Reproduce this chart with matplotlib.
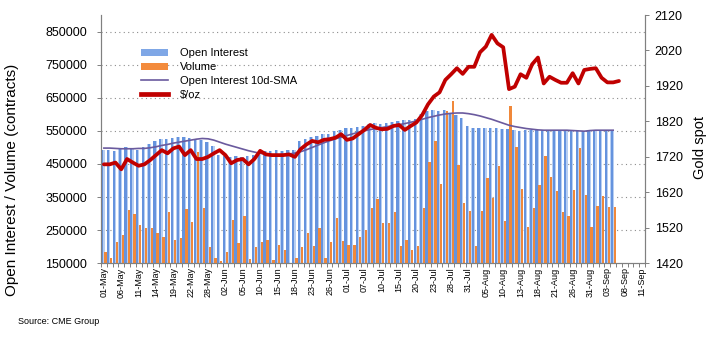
import matplotlib
matplotlib.use("Agg")
import matplotlib.pyplot as plt
from matplotlib.patches import Patch
from matplotlib.lines import Line2D
import numpy as np

plt.rcParams['font.family'] = ['Liberation Sans', 'DejaVu Sans']

# ---- data ----
tick_labels = ["01-May", "06-May", "11-May", "14-May", "19-May", "22-May", "28-May",
               "02-Jun", "05-Jun", "10-Jun", "15-Jun", "18-Jun", "23-Jun", "26-Jun",
               "01-Jul", "07-Jul", "10-Jul", "15-Jul", "20-Jul", "23-Jul", "28-Jul",
               "31-Jul", "05-Aug", "10-Aug", "13-Aug", "18-Aug", "21-Aug", "26-Aug",
               "31-Aug", "03-Sep", "08-Sep", "11-Sep"]
n_categories = 94

open_interest = [492, 491, 490, 496, 502, 496, 492, 500, 510, 520, 525, 526, 528, 533, 530,
                 529, 525, 522, 517, 505, 478, 475, 472, 473, 471, 474, 476, 478, 488, 490,
                 491, 490, 491, 492, 520, 525, 530, 535, 540, 542, 550, 553, 558, 560, 563,
                 565, 570, 573, 572, 575, 576, 580, 582, 583, 585, 600, 610, 612, 611, 612,
                 605, 598, 588, 565, 560, 560, 558, 558, 560, 556, 556, 553, 550, 552, 552,
                 552, 553, 552, 552, 552, 553, 552, 553, 550, 552, 553, 552, 553, 553]
open_interest = [v * 1000 for v in open_interest]

volume = [184, 166, 213, 236, 310, 300, 267, 258, 257, 241, 229, 306, 219, 226, 315,
          276, 487, 316, 200, 167, 157, 184, 280, 211, 294, 164, 200, 214, 221, 160,
          206, 190, 151, 165, 198, 241, 203, 258, 165, 213, 288, 216, 206, 206, 230,
          251, 318, 343, 272, 272, 305, 201, 221, 190, 203, 318, 457, 518, 389, 610,
          641, 447, 333, 309, 201, 308, 409, 348, 445, 277, 624, 500, 373, 259, 318,
          387, 475, 411, 368, 304, 292, 371, 497, 355, 259, 323, 353, 320, 320]
volume = [v * 1000 for v in volume]

oi_sma = [498, 498, 497, 496, 496, 496, 497, 497, 499, 502, 506, 509, 513, 516, 519,
          522, 525, 527, 526, 522, 516, 510, 505, 500, 495, 490, 486, 482, 480, 478,
          477, 478, 480, 483, 487, 493, 500, 507, 514, 520, 526, 531, 536, 541, 546,
          550, 554, 557, 560, 563, 566, 569, 572, 576, 580, 585, 590, 594, 598, 601,
          603, 604, 604, 602, 599, 595, 590, 585, 579, 573, 567, 563, 560, 557, 555,
          553, 552, 552, 552, 552, 552, 551, 550, 549, 551, 552, 552, 552, 552]
oi_sma = [v * 1000 for v in oi_sma]

gold = [1699, 1699, 1704, 1685, 1714, 1704, 1695, 1699, 1711, 1725, 1739, 1730, 1744, 1749,
        1725, 1739, 1714, 1714, 1720, 1730, 1739, 1725, 1702, 1711, 1714, 1699, 1714, 1737,
        1727, 1725, 1725, 1725, 1727, 1720, 1742, 1755, 1765, 1761, 1768, 1770, 1774, 1784,
        1768, 1772, 1784, 1796, 1810, 1802, 1798, 1799, 1807, 1810, 1796, 1807, 1817, 1838,
        1868, 1890, 1902, 1937, 1953, 1970, 1954, 1974, 1974, 2015, 2031, 2064, 2040, 2029,
        1911, 1918, 1953, 1943, 1981, 2000, 1927, 1946, 1937, 1929, 1929, 1956, 1927, 1965,
        1968, 1970, 1943, 1930, 1930, 1934]

# ---- figure ----
fig = plt.figure(figsize=(7.17, 3.38), dpi=100)
ax = fig.add_axes([101/717, 1 - 263.3/338, 544/717, 248.3/338])
ax2 = ax.twinx()

x_bar = np.arange(len(open_interest))
x_gold = np.arange(len(gold))

base = 150000
oi_h = [v - base for v in open_interest]
# open interest bar: light stripe + blue body (gradient-like)
ax.bar(x_bar - 0.18, oi_h, width=0.62, bottom=base, color="#b8cff2",
       linewidth=0, zorder=2)
ax.bar(x_bar - 0.26, oi_h, width=0.38, bottom=base, color="#6593de",
       linewidth=0, zorder=2)
vol_h = [v - base for v in volume]
ax.bar(x_bar + 0.28, vol_h, width=0.40, bottom=base, color="#f0883a",
       linewidth=0, zorder=3)
ax.plot(x_bar, oi_sma, color="#6a5a9e", lw=1.2, zorder=4)

ax2.plot(x_gold, gold, color="#c00000", lw=2.7, solid_capstyle='round',
         solid_joinstyle='round', zorder=5)

# axes
ax.set_xlim(-0.5, n_categories - 0.5)
ax.set_ylim(150000, 900000)
ax2.set_ylim(1420, 2120)

ax.set_yticks(np.arange(150000, 850001, 100000))
ax.set_yticklabels([str(v) for v in range(150000, 850001, 100000)], fontsize=9)
ax2.set_yticks(np.arange(1420, 2121, 100))
ax2.set_yticklabels([str(v) for v in range(1420, 2121, 100)], fontsize=9)

ax.set_xticks(np.arange(0, 3 * len(tick_labels), 3))
ax.set_xticklabels(tick_labels, rotation=90, fontsize=6.5)
ax.set_xticks(np.arange(-0.5, n_categories, 1), minor=True)
ax.tick_params(axis='x', which='major', length=0, pad=3)
ax.tick_params(axis='x', which='minor', length=3, color="#808080", width=0.7)
ax.tick_params(axis='y', length=3, color="#808080", width=0.7, pad=7)
ax2.tick_params(axis='y', length=3, color="#808080", width=0.7, pad=4)

for a in (ax, ax2):
    a.spines['top'].set_visible(False)
    for s in ('left', 'right', 'bottom'):
        a.spines[s].set_color("#808080")
        a.spines[s].set_linewidth(0.8)

for v in range(250000, 850001, 100000):
    ax.axhline(v, color="#8c8c8c", lw=0.8, ls=(0, (1, 3)), zorder=1)

ax.set_ylabel("Open Interest / Volume (contracts)", fontsize=11)
ax.yaxis.set_label_coords(-0.151, 0.335)
ax2.set_ylabel("Gold spot", fontsize=10.5, rotation=90)
ax2.yaxis.set_label_coords(1.088, 0.466)

handles = [Patch(facecolor="#7fa7e6", edgecolor="none"),
           Patch(facecolor="#f38b3c", edgecolor="none"),
           Line2D([], [], color="#6a5a9e", lw=1.2),
           Line2D([], [], color="#c00000", lw=3.4)]
labels = ["Open Interest", "Volume", "Open Interest 10d-SMA", "$/oz"]
leg = ax2.legend(handles, labels, loc='upper left', bbox_to_anchor=(0.066, 0.885),
                 frameon=False, fontsize=8, handlelength=2.4, handleheight=0.6,
                 handletextpad=1.1, labelspacing=0.36, borderaxespad=0)

fig.text(18/717, 1 - 321/338, "Source: CME Group", fontsize=6.5, va='center', ha='left')

fig.savefig("out.png", dpi=100)
